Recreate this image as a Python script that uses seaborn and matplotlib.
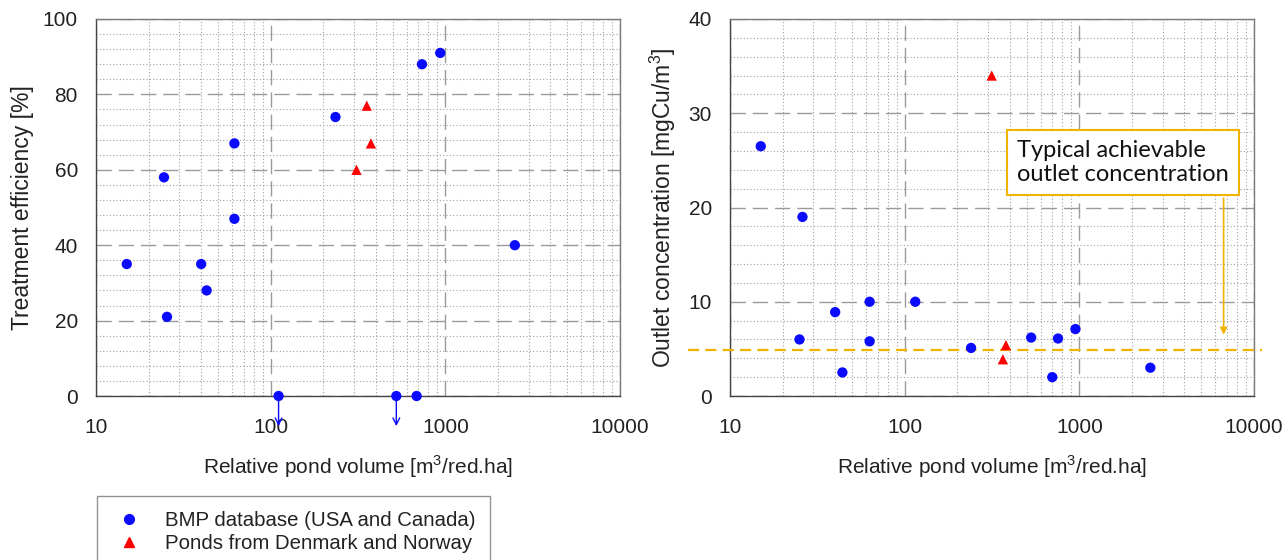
import numpy as np
import pandas as pd
import matplotlib
matplotlib.use("Agg")
import matplotlib.pyplot as plt
import seaborn as sns
from matplotlib.ticker import LogLocator, MultipleLocator, FixedLocator, NullFormatter
from matplotlib.lines import Line2D

# ---------------- data ----------------
# Left panel: treatment efficiency [%]
bmp_vol_eff = [15, 24.5, 25.5, 40, 43, 62, 62, 235, 735, 935, 2500, 111, 524, 685]
bmp_eff = [35, 58, 21, 35, 28, 67, 47, 74, 88, 91, 40, 0, 0, 0]
dk_vol_eff = [355, 375, 310]
dk_eff = [77, 67, 60]
negative_vol = [111, 524]  # points whose efficiency is below zero (arrows)

# Right panel: outlet concentration [mgCu/m3]
bmp_vol_conc = [15, 26, 25, 40, 44, 63, 63, 115, 240, 530, 755, 700, 950, 2550]
bmp_conc = [26.5, 19, 6, 8.9, 2.5, 10, 5.8, 10, 5.1, 6.2, 6.1, 2.0, 7.1, 3.0]
dk_vol_conc = [315, 380, 365]
dk_conc = [34, 5.4, 3.9]
typical_conc = 4.9

series_names = ["BMP database (USA and Canada)", "Ponds from Denmark and Norway"]
x_ticks = [10, 100, 1000, 10000]
x_ticklabels = ["10", "100", "1000", "10000"]

df_eff = pd.DataFrame({
    "vol": bmp_vol_eff + dk_vol_eff,
    "val": bmp_eff + dk_eff,
    "src": [series_names[0]] * len(bmp_eff) + [series_names[1]] * len(dk_eff),
})
df_conc = pd.DataFrame({
    "vol": bmp_vol_conc + dk_vol_conc,
    "val": bmp_conc + dk_conc,
    "src": [series_names[0]] * len(bmp_conc) + [series_names[1]] * len(dk_conc),
})

# ---------------- style ----------------
sns.set_theme(style="white")
plt.rcParams["font.family"] = ["Liberation Sans", "DejaVu Sans"]
plt.rcParams["mathtext.fontset"] = "custom"
plt.rcParams["mathtext.rm"] = "Liberation Sans"

BLUE = "#0a0aff"
RED = "#ff0000"
ORANGE = "#f0b400"
TXT = "#222222"
palette = {series_names[0]: BLUE, series_names[1]: RED}
markers = {series_names[0]: "o", series_names[1]: "^"}

fig = plt.figure(figsize=(12.83, 5.60), dpi=100)
W, H = 1283, 560
axL = fig.add_axes([96 / W, 1 - 396 / H, 524 / W, 377 / H])
axR = fig.add_axes([730 / W, 1 - 396 / H, 524 / W, 377 / H])


def style_axis(ax, ymax, ymajor, yminor):
    ax.set_xscale("log")
    ax.set_xlim(10, 10000)
    ax.set_ylim(0, ymax)
    ax.xaxis.set_major_locator(FixedLocator(x_ticks))
    ax.set_xticklabels(x_ticklabels)
    ax.xaxis.set_minor_locator(LogLocator(base=10, subs=range(2, 10)))
    ax.xaxis.set_minor_formatter(NullFormatter())
    ax.yaxis.set_major_locator(MultipleLocator(ymajor))
    ax.yaxis.set_minor_locator(MultipleLocator(yminor))
    ax.grid(which="major", color="#9a9a9a", linestyle=(0, (11, 5)), lw=1.0)
    ax.grid(which="minor", color="#a0a0a0", linestyle=(0, (1, 2)), lw=0.8)
    ax.set_axisbelow(True)
    for s in ax.spines.values():
        s.set_color("#7a7a7a")
        s.set_linewidth(1.0)
    ax.spines["left"].set_color("#444444")
    ax.spines["bottom"].set_color("#444444")
    ax.tick_params(which="major", direction="inout", length=8, width=1,
                   color="#444444", labelsize=15, labelcolor=TXT)
    ax.tick_params(axis="x", which="major", pad=12)
    ax.tick_params(axis="y", which="major", pad=9)
    ax.tick_params(which="minor", length=0)


for ax, df in ((axL, df_eff), (axR, df_conc)):
    sns.scatterplot(data=df, x="vol", y="val", hue="src", style="src",
                    palette=palette, markers=markers, s=55, edgecolor="none",
                    ax=ax, legend=False, zorder=5, clip_on=False)

style_axis(axL, 100, 20, 4)
style_axis(axR, 40, 10, 2)

for ax in (axL, axR):
    ax.set_xlabel("Relative pond volume [m$^3$/red.ha]", fontsize=15, color=TXT, labelpad=12)
axL.set_ylabel("Treatment efficiency [%]", fontsize=16.5, color=TXT)
axR.set_ylabel("Outlet concentration [mgCu/m$^3$]", fontsize=16.5, color=TXT)
axL.yaxis.set_label_coords(-0.118, 0.5)
axR.yaxis.set_label_coords(-0.100, 0.5)

# arrows for negative efficiencies
for xv in negative_vol:
    axL.annotate("", xy=(xv, -8), xytext=(xv, 0), annotation_clip=False,
                 arrowprops=dict(arrowstyle="->", color=BLUE, lw=1.0,
                                 shrinkA=0, shrinkB=0, mutation_scale=12))

# typical achievable outlet concentration line
axR.axhline(typical_conc, xmin=-0.08, xmax=1.015, color=ORANGE, lw=1.6,
            linestyle=(0, (5, 2.8)), clip_on=False, zorder=4)
axR.text(440, 24.8, "Typical achievable\noutlet concentration", fontsize=17,
         family=["Lato", "DejaVu Sans"], color="#111111", va="center", ha="left",
         linespacing=1.2,
         bbox=dict(boxstyle="square,pad=0.42", fc="white", ec=ORANGE, lw=1.5),
         zorder=6)
axR.annotate("", xy=(6700, 6.5), xytext=(6700, 21.0),
             arrowprops=dict(arrowstyle="-|>", color=ORANGE, lw=1.2,
                             shrinkA=0, shrinkB=0, mutation_scale=10), zorder=6)

# legend
handles = [
    Line2D([], [], marker="o", ls="none", color=BLUE, markersize=7),
    Line2D([], [], marker="^", ls="none", color=RED, markersize=7.5),
]
leg = fig.legend(handles, series_names, loc="upper left",
                 bbox_to_anchor=(97 / W, 1 - 496 / H), fontsize=14.7,
                 frameon=True, fancybox=False, edgecolor="#777777",
                 handlelength=1.7, handletextpad=0.9, borderpad=0.72,
                 borderaxespad=0, labelspacing=0.22)
leg.get_frame().set_linewidth(1.0)
for t in leg.get_texts():
    t.set_color(TXT)

fig.savefig("out.png", dpi=100)
